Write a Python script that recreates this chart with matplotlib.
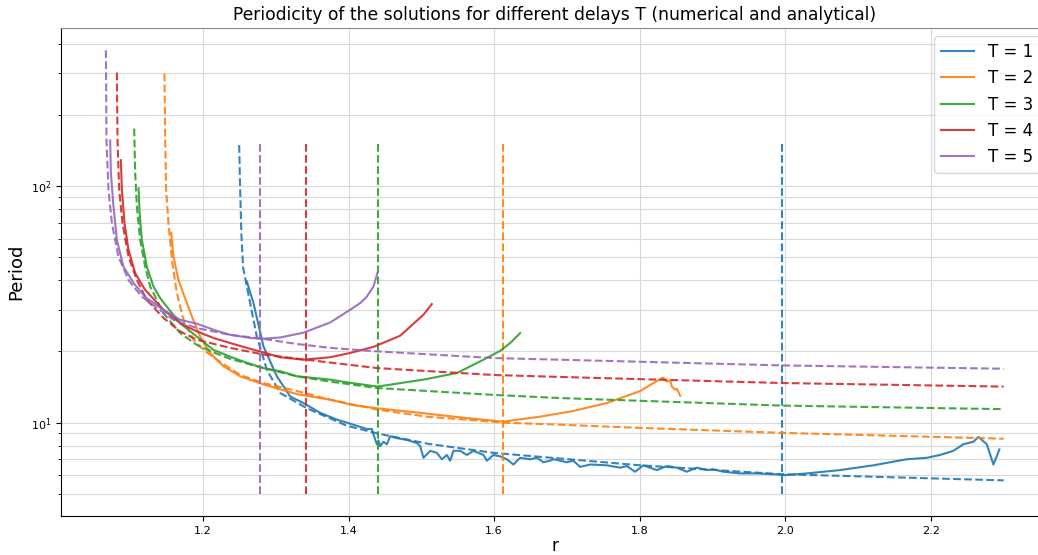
import matplotlib
matplotlib.use("Agg")
import matplotlib.pyplot as plt

delays = [1, 2, 3, 4, 5]
colors = ["#1f77b4", "#ff7f0e", "#2ca02c", "#d62728", "#9467bd"]

# numerical periods (simulation)
r_num_1 = [1.2603, 1.2694, 1.2831, 1.3015, 1.3198, 1.338, 1.361, 1.3839, 1.4067, 1.4251,
           1.432, 1.4342, 1.4389, 1.4411, 1.4434, 1.4479, 1.4526, 1.4571, 1.4663, 1.4801,
           1.4938, 1.4984, 1.5029, 1.5121, 1.5213, 1.5282, 1.535, 1.5396, 1.5441, 1.5533,
           1.5625, 1.5716, 1.5853, 1.59, 1.599, 1.6082, 1.6174, 1.6265, 1.6357, 1.6495,
           1.6587, 1.6677, 1.6769, 1.6815, 1.6999, 1.7089, 1.7181, 1.7319, 1.7548, 1.7731,
           1.7823, 1.7937, 1.8051, 1.8235, 1.8372, 1.851, 1.8647, 1.8784, 1.8922, 1.9013,
           1.915, 1.9379, 1.9609, 1.9837, 1.9997, 2.0295, 2.0753, 2.121, 2.1669, 2.1944,
           2.2126, 2.2309, 2.2446, 2.2584, 2.2653, 2.2768, 2.2859, 2.2905, 2.2941]
p_num_1 = [39.5, 32.0, 21.0, 15.7, 12.9, 12.1, 11.0, 10.3, 9.8, 9.4,
           9.4, 8.9, 8.1, 8.4, 7.95, 8.3, 8.1, 8.75, 8.6, 8.45,
           8.2, 7.95, 7.1, 7.6, 7.45, 7.0, 7.3, 6.9, 7.6, 7.6,
           7.3, 7.6, 7.3, 6.9, 7.3, 7.2, 7.0, 6.65, 7.1, 7.0,
           7.1, 6.8, 6.9, 7.0, 6.8, 6.9, 6.5, 6.65, 6.6, 6.45,
           6.55, 6.2, 6.6, 6.3, 6.55, 6.45, 6.2, 6.45, 6.3, 6.35,
           6.2, 6.1, 6.1, 6.05, 6.0, 6.1, 6.3, 6.6, 7.0, 7.1,
           7.3, 7.6, 8.1, 8.3, 8.7, 8.1, 6.65, 7.2, 7.7]

r_num_2 = [1.1563, 1.1595, 1.1663, 1.1732, 1.1848, 1.1962, 1.2099, 1.2282, 1.2511, 1.2831,
           1.329, 1.3747, 1.4067, 1.4389, 1.4984, 1.5441, 1.6037, 1.6128, 1.6632, 1.7089,
           1.7548, 1.8005, 1.8188, 1.8321, 1.8372, 1.8418, 1.8441, 1.8486, 1.851, 1.8555]
p_num_2 = [63.5, 50.3, 40.1, 35.0, 28.1, 23.1, 19.7, 17.3, 15.7, 14.5,
           13.2, 12.5, 11.85, 11.5, 11.0, 10.6, 10.15, 10.1, 10.6, 11.2,
           12.1, 13.6, 14.7, 15.5, 14.9, 15.1, 14.2, 13.8, 13.9, 13.0]

r_num_3 = [1.1115, 1.1129, 1.1161, 1.1229, 1.132, 1.1412, 1.1504, 1.1687, 1.1916, 1.2144,
           1.2374, 1.2603, 1.2831, 1.306, 1.329, 1.3747, 1.3977, 1.4397, 1.5029, 1.5488,
           1.5853, 1.6082, 1.622, 1.6357]
p_num_3 = [97.8, 76.7, 59.2, 45.6, 37.6, 33.6, 30.9, 26.3, 23.1, 20.3,
           19.0, 17.9, 17.0, 16.5, 15.7, 15.2, 14.8, 14.2, 15.2, 16.2,
           18.45, 20.1, 21.7, 23.9]

r_num_4 = [1.0872, 1.0886, 1.0922, 1.0977, 1.1069, 1.1206, 1.1457, 1.1687, 1.1916, 1.2144,
           1.2374, 1.2603, 1.2831, 1.306, 1.338, 1.3747, 1.4022, 1.4342, 1.4709, 1.4801,
           1.5029, 1.5144]
p_num_4 = [128.7, 96.2, 69.6, 53.7, 42.8, 36.4, 30.0, 26.3, 24.3, 22.8,
           21.7, 20.7, 19.8, 18.9, 18.45, 18.9, 19.7, 20.9, 23.3, 24.7,
           28.6, 31.7]

r_num_5 = [1.0725, 1.0735, 1.0771, 1.0817, 1.0908, 1.1055, 1.122, 1.1457, 1.1687, 1.1916,
           1.2144, 1.2374, 1.2648, 1.2786, 1.306, 1.338, 1.3747, 1.4022, 1.4159, 1.4251,
           1.4342, 1.4402]
p_num_5 = [156, 113, 81.8, 59.2, 45.6, 38.6, 33.7, 30.0, 27.2, 26.2,
           24.7, 23.5, 22.8, 22.6, 22.9, 24.0, 26.5, 30.0, 32.0, 34.1,
           37.6, 43.5]

# analytical periods
r_ana_1 = [1.2497, 1.2511, 1.2528, 1.2552, 1.2648, 1.274, 1.2878, 1.306, 1.3427, 1.3977,
           1.4397, 1.5076, 1.599, 1.8005, 1.9966, 2.3]
p_ana_1 = [149, 96.2, 62.1, 45.1, 32.0, 23.1, 16.7, 13.35, 11.5, 9.7,
           9.0, 8.15, 7.45, 6.6, 6.05, 5.7]

r_ana_2 = [1.1471, 1.1481, 1.1494, 1.1526, 1.1577, 1.1641, 1.1732, 1.187, 1.2007, 1.2191,
           1.2511, 1.2831, 1.329, 1.3747, 1.4397, 1.5076, 1.6128, 1.6907, 1.8005, 1.9966,
           2.3]
p_ana_2 = [299, 156, 96.2, 69.6, 47.8, 35.3, 27.2, 22.4, 20.3, 18.45,
           15.9, 14.7, 13.6, 12.5, 11.35, 10.6, 10.0, 9.8, 9.5, 9.05,
           8.55]

r_ana_3 = [1.1055, 1.1069, 1.1092, 1.1137, 1.1206, 1.1275, 1.1457, 1.1687, 1.1916, 1.2144,
           1.2374, 1.2831, 1.329, 1.3747, 1.4397, 1.599, 1.6907, 1.9966, 2.3]
p_ana_3 = [175, 113, 81.8, 59.2, 45.6, 37.6, 29.0, 23.9, 21.3, 19.8,
           18.6, 17.0, 15.7, 14.9, 14.0, 13.1, 12.7, 11.8, 11.4]

r_ana_4 = [1.0817, 1.0826, 1.0849, 1.0894, 1.0977, 1.1092, 1.1229, 1.1457, 1.1687, 1.1916,
           1.2374, 1.2831, 1.3413, 1.4397, 1.599, 1.6907, 1.9966, 2.3]
p_ana_4 = [302, 156, 96.2, 69.6, 50.3, 40.1, 33.0, 27.7, 24.3, 22.4,
           20.7, 19.4, 18.45, 17.0, 15.9, 15.6, 14.7, 14.2]

r_ana_5 = [1.0666, 1.067, 1.0674, 1.0702, 1.0749, 1.0839, 1.0977, 1.1045, 1.1161, 1.1275,
           1.1595, 1.1916, 1.2374, 1.2786, 1.329, 1.3747, 1.4397, 1.599, 1.6907, 1.9966,
           2.3]
p_ana_5 = [375, 254, 156, 96.2, 69.6, 50.3, 40.1, 37.6, 34.1, 32.0,
           27.2, 25.1, 23.5, 22.7, 21.5, 20.7, 20.0, 18.75, 18.45, 17.45,
           16.9]

# critical r for each delay, drawn as vertical dashed lines
r_crit = [1.995, 1.612, 1.440, 1.341, 1.279]
crit_span = [5, 150]

numerical = [(r_num_1, p_num_1), (r_num_2, p_num_2), (r_num_3, p_num_3),
             (r_num_4, p_num_4), (r_num_5, p_num_5)]
analytical = [(r_ana_1, p_ana_1), (r_ana_2, p_ana_2), (r_ana_3, p_ana_3),
              (r_ana_4, p_ana_4), (r_ana_5, p_ana_5)]

fig = plt.figure(figsize=(10.38, 5.55), dpi=100)
ax = fig.add_axes([0.0588, 0.0703, 0.9509, 0.8793])

for T, c, (rn, pn), (ra, pa), rc in zip(delays, colors, numerical, analytical, r_crit):
    ax.plot(rn, pn, color=c, lw=1.5, alpha=0.9, label="T = %d" % T)
    ax.plot(ra, pa, color=c, lw=1.5, alpha=0.9, ls="--")
    ax.plot([rc, rc], crit_span, color=c, lw=1.5, alpha=0.9, ls="--")

ax.set_yscale("log")
ax.set_xlim(1.005, 2.361)
ax.set_ylim(4.03, 466)
ax.grid(True, which="both", color="#d9d9d9", lw=0.8)
ax.set_axisbelow(True)
ax.tick_params(labelsize=8)
ax.spines["top"].set_color("#888888")

ax.set_title("Periodicity of the solutions for different delays T (numerical and analytical)",
             fontsize=12.3)
ax.set_xlabel("r", fontsize=12, labelpad=1)
ax.set_ylabel("Period", fontsize=13)
ax.legend(loc="upper right", fontsize=12)

fig.savefig("out.png", dpi=100)
